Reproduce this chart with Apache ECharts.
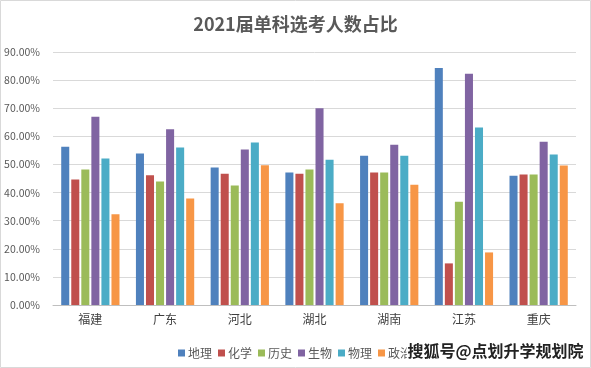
<!DOCTYPE html>
<html><head><meta charset="utf-8">
<script src="https://cdn.jsdelivr.net/npm/echarts@6/dist/echarts.min.js"></script>
<style>html,body{margin:0;padding:0;background:#fff}#c{width:591px;height:368px}</style>
</head><body><div id="c"></div>
<script>
const categories = ['福建','广东','河北','湖北','湖南','江苏','重庆'];
const seriesNames = ['地理','化学','历史','生物','物理','政治'];
const dili    = [56.3, 53.9, 48.9, 47.1, 53.1, 84.3, 46.0];
const huaxue  = [44.6, 46.2, 46.7, 46.7, 47.1, 14.8, 46.4];
const lishi   = [48.2, 43.9, 42.5, 48.2, 47.1, 36.7, 46.4];
const shengwu = [67.0, 62.5, 55.3, 70.0, 57.0, 82.3, 58.1];
const wuli    = [52.1, 56.0, 57.8, 51.7, 53.1, 63.1, 53.5];
const zhengzhi= [32.3, 37.9, 49.7, 36.2, 42.8, 18.7, 49.6];
const yTicks = [0,10,20,30,40,50,60,70,80,90];
const colors = ['#4F81BD','#C0504D','#9BBB59','#8064A2','#4BACC6','#F79646'];
const values = [dili, huaxue, lishi, shengwu, wuli, zhengzhi];
const font = '"Noto Sans CJK SC", "Noto Sans", sans-serif';

const chart = echarts.init(document.getElementById('c'));
chart.setOption({
  animation: false,
  color: colors,
  textStyle: {fontFamily: font},
  title: {
    text: '2021届单科选考人数占比', left: 'center', top: 10,
    textStyle: {fontSize: 18, fontWeight: 'bold', color: '#595959', fontFamily: font}
  },
  grid: {left: 53, right: 15, top: 52, bottom: 63, containLabel: false},
  legend: {
    data: seriesNames, left: 173, top: 342, itemWidth: 7, itemHeight: 7, itemGap: 6,
    icon: 'rect', textStyle: {fontSize: 12, color: '#595959', padding: [0,0,0,-2]}
  },
  xAxis: {
    type: 'category', data: categories,
    axisLine: {lineStyle: {color: '#bfbfbf'}}, axisTick: {show: false},
    axisLabel: {fontSize: 12, color: '#404040', margin: 8}
  },
  yAxis: {
    type: 'value', min: 0, max: 90, interval: 10,
    axisLine: {show: false}, axisTick: {show: false},
    splitLine: {lineStyle: {color: '#d9d9d9'}},
    axisLabel: {fontSize: 10.5, color: '#595959', margin: 13, formatter: v => v.toFixed(2) + '%'}
  },
  series: seriesNames.map((n, i) => ({
    name: n, type: 'bar', data: values[i], barGap: '25%', barCategoryGap: '22%'
  })),
  graphic: [
    {type: 'rect', shape: {x: 0.5, y: 0.5, width: 590, height: 367}, style: {fill: 'none', stroke: '#d9d9d9', lineWidth: 1}, silent: true},
    {type: 'text', left: 406, top: 341, z: 100, style: {text: '搜狐号@点划升学规划院', fontSize: 16, fontWeight: 'bold', fill: '#222', stroke: '#fff', lineWidth: 3, fontFamily: font}}
  ]
});
</script></body></html>
